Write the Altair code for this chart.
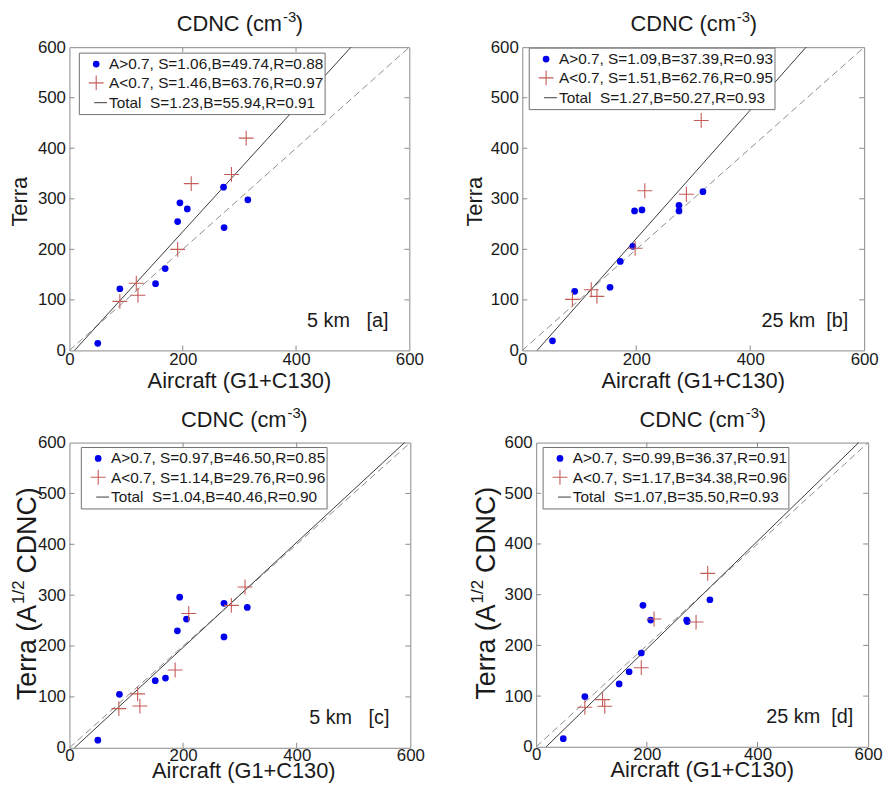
import altair as alt
import pandas as pd

FONT = "Liberation Sans"
BLUE = "#0000ee"
RED = "#c45c58"
FRAME = "#8a8a8a"
TXT = "#1a1a1a"
PLUS = "M-1,0L1,0M0,-1L0,1"

# ---------------- data ----------------
x_ticks = [0, 200, 400, 600]
y_ticks = [0, 100, 200, 300, 400, 500, 600]

# panel a (5 km, CDNC)
a_blue_x = [50, 89, 152, 169, 191, 195, 208, 272, 273, 315]
a_blue_y = [14, 122, 132, 162, 255, 292, 280, 323, 243, 298]
a_red_x = [89, 118, 121, 191, 215, 286, 312]
a_red_y = [97, 133, 109, 200, 330, 348, 420]
a_fit_x = [9, 497]          # x where the fitted line meets y=0 and y=600
# panel b (25 km, CDNC)
b_blue_x = [53, 92, 154, 172, 194, 197, 210, 275, 275, 317]
b_blue_y = [19, 117, 125, 176, 206, 276, 278, 287, 276, 314]
b_red_x = [88, 121, 131, 198, 215, 288, 314]
b_red_y = [101, 120, 107, 202, 316, 309, 455]
b_fit_x = [26, 498]
# panel c (5 km, A^1/2 CDNC)
c_blue_x = [50, 88, 151, 169, 190, 194, 206, 272, 272, 313]
c_blue_y = [15, 105, 132, 137, 230, 296, 253, 284, 218, 276]
c_red_x = [87, 120, 124, 186, 210, 285, 309]
c_red_y = [77, 106, 82, 153, 264, 280, 316]
c_fit_x = [9, 590]
# panel d (25 km, A^1/2 CDNC)
d_blue_x = [49, 88, 150, 168, 190, 193, 207, 272, 273, 314]
d_blue_y = [16, 99, 124, 148, 185, 279, 250, 250, 247, 290]
d_red_x = [88, 120, 124, 190, 213, 289, 310]
d_red_y = [78, 93, 80, 156, 252, 246, 342]
d_fit_x = [18, 583]

one_to_one = [0, 600]

a_legend = ["A>0.7, S=1.06,B=49.74,R=0.88", "A<0.7, S=1.46,B=63.76,R=0.97", "Total\u00a0\u00a0S=1.23,B=55.94,R=0.91"]
b_legend = ["A>0.7, S=1.09,B=37.39,R=0.93", "A<0.7, S=1.51,B=62.76,R=0.95", "Total\u00a0\u00a0S=1.27,B=50.27,R=0.93"]
c_legend = ["A>0.7, S=0.97,B=46.50,R=0.85", "A<0.7, S=1.14,B=29.76,R=0.96", "Total\u00a0\u00a0S=1.04,B=40.46,R=0.90"]
d_legend = ["A>0.7, S=0.99,B=36.37,R=0.91", "A<0.7, S=1.17,B=34.38,R=0.96", "Total\u00a0\u00a0S=1.07,B=35.50,R=0.93"]

a_label = "5 km\u00a0\u00a0\u00a0[a]"
b_label = "25 km\u00a0\u00a0[b]"
c_label = "5 km\u00a0\u00a0\u00a0[c]"
d_label = "25 km\u00a0\u00a0[d]"

ONE = pd.DataFrame({"k": [0]})


def panel(w, h, bx, by, rx, ry, fitx, legend, label, leg_dx, leg_dy,
          ytitle_x, ylong, xtitle_dy, xlabpad, label_dx, cshift):
    XS = alt.Scale(domain=[0, 600], nice=False, zero=False)
    YS = alt.Scale(domain=[0, 600], nice=False, zero=False)
    XA = alt.Axis(values=x_ticks, ticks=False, domain=False, grid=False,
                  labelFontSize=17, labelFont=FONT, labelColor=TXT,
                  labelPadding=xlabpad, labelFlush=False, labelOverlap=False, title=None)
    YA = alt.Axis(values=y_ticks, ticks=False, domain=False, grid=False,
                  labelFontSize=17, labelFont=FONT, labelColor=TXT,
                  labelPadding=4, labelFlush=False, labelOverlap=False, title=None)

    def X(f="x"):
        return alt.X(f + ":Q", scale=XS, axis=XA)

    def Y(f="y"):
        return alt.Y(f + ":Q", scale=YS, axis=YA)

    layers = []
    layers.append(alt.Chart(pd.DataFrame({"x": one_to_one, "y": one_to_one}))
                  .mark_line(color="#8c8c8c", strokeWidth=1, strokeDash=[7, 4])
                  .encode(x=X(), y=Y()))
    layers.append(alt.Chart(pd.DataFrame({"x": fitx, "y": one_to_one}))
                  .mark_line(color="#3a3a3a", strokeWidth=1)
                  .encode(x=X(), y=Y()))
    inner_x = pd.DataFrame({"x": x_ticks[1:-1]})
    inner_y = pd.DataFrame({"y": y_ticks[1:-1]})
    layers.append(alt.Chart(inner_x).mark_rule(color=FRAME)
                  .encode(x=X(), y=alt.value(h), y2=alt.value(h - 5)))
    layers.append(alt.Chart(inner_x).mark_rule(color=FRAME)
                  .encode(x=X(), y=alt.value(0), y2=alt.value(5)))
    layers.append(alt.Chart(inner_y).mark_rule(color=FRAME)
                  .encode(y=Y(), x=alt.value(0), x2=alt.value(5)))
    layers.append(alt.Chart(inner_y).mark_rule(color=FRAME)
                  .encode(y=Y(), x=alt.value(w), x2=alt.value(w - 5)))
    layers.append(alt.Chart(pd.DataFrame({"x": bx, "y": by}))
                  .mark_circle(size=46, color=BLUE, opacity=1)
                  .encode(x=X(), y=Y()))
    layers.append(alt.Chart(pd.DataFrame({"x": rx, "y": ry}))
                  .mark_point(shape=PLUS, size=225, filled=False, color=RED,
                              strokeWidth=1.1, opacity=1)
                  .encode(x=X(), y=Y()))
    L, T = leg_dx, leg_dy
    layers.append(alt.Chart(ONE).mark_rect(fill="white", stroke="#707070", strokeWidth=1)
                  .encode(x=alt.value(L), x2=alt.value(L + 248),
                          y=alt.value(T), y2=alt.value(T + 62)))
    layers.append(alt.Chart(ONE).mark_circle(size=46, color=BLUE, opacity=1)
                  .encode(x=alt.value(L + 17), y=alt.value(T + 11)))
    layers.append(alt.Chart(ONE).mark_point(shape=PLUS, size=225, filled=False,
                                            color=RED, strokeWidth=1.1, opacity=1)
                  .encode(x=alt.value(L + 17), y=alt.value(T + 30)))
    layers.append(alt.Chart(ONE).mark_rule(color="#3a3a3a", strokeWidth=1)
                  .encode(x=alt.value(L + 15), x2=alt.value(L + 28), y=alt.value(T + 50)))
    for i, t in enumerate(legend):
        layers.append(alt.Chart(ONE).mark_text(text=t, align="left", baseline="middle",
                                               fontSize=15.5, font=FONT, color=TXT)
                      .encode(x=alt.value(L + 30), y=alt.value(T + 11 + i * 19.5)))
    layers.append(alt.Chart(ONE).mark_text(text=label, align="right", baseline="middle",
                                           fontSize=20, font=FONT, color=TXT)
                  .encode(x=alt.value(w - label_dx), y=alt.value(h - 30)))
    A = w / 2 + 43 + cshift
    layers.append(alt.Chart(ONE).mark_text(text="CDNC (cm", align="right", baseline="alphabetic",
                                           fontSize=22, font=FONT, color=TXT)
                  .encode(x=alt.value(A), y=alt.value(-16)))
    layers.append(alt.Chart(ONE).mark_text(text="-3", align="left", baseline="alphabetic",
                                           fontSize=15, font=FONT, color=TXT)
                  .encode(x=alt.value(A + 1), y=alt.value(-25)))
    layers.append(alt.Chart(ONE).mark_text(text=")", align="left", baseline="alphabetic",
                                           fontSize=22, font=FONT, color=TXT)
                  .encode(x=alt.value(A + 14), y=alt.value(-16)))
    layers.append(alt.Chart(ONE).mark_text(text="Aircraft (G1+C130)", align="center",
                                           baseline="alphabetic", fontSize=22, font=FONT, color=TXT)
                  .encode(x=alt.value(w / 2 + cshift), y=alt.value(h + xtitle_dy)))
    if not ylong:
        layers.append(alt.Chart(ONE).mark_text(text="Terra", align="center", baseline="middle",
                                               angle=270, fontSize=22, font=FONT, color=TXT)
                      .encode(x=alt.value(ytitle_x), y=alt.value(h / 2 + 3)))
    else:
        fs, sfs = 27, 17
        w1 = 3.667 * fs
        w2 = 1.39 * sfs
        w3 = 3.221 * fs
        gap = 8
        tot = w1 + w2 + gap + w3
        bottom = h / 2 + tot / 2
        P = bottom - w1
        layers.append(alt.Chart(ONE).mark_text(text="Terra (A", align="right", baseline="middle",
                                               angle=270, fontSize=fs, font=FONT, color=TXT)
                      .encode(x=alt.value(ytitle_x), y=alt.value(P)))
        layers.append(alt.Chart(ONE).mark_text(text="1/2", align="left", baseline="middle",
                                               angle=270, fontSize=sfs, font=FONT, color=TXT)
                      .encode(x=alt.value(ytitle_x - 9), y=alt.value(P - 1)))
        layers.append(alt.Chart(ONE).mark_text(text="CDNC)", align="left", baseline="middle",
                                               angle=270, fontSize=fs, font=FONT, color=TXT)
                      .encode(x=alt.value(ytitle_x), y=alt.value(P - w2 - gap)))
    return alt.layer(*layers).properties(width=w, height=h)


pa = panel(343, 306, a_blue_x, a_blue_y, a_red_x, a_red_y, a_fit_x, a_legend, a_label,
           10, 6, -50, False, 38, 1, 21, 0)
pb = panel(345, 306, b_blue_x, b_blue_y, b_red_x, b_red_y, b_fit_x, b_legend, b_label,
           7, 1, -48, False, 38, 1, 16, 0)
pc = panel(344, 308, c_blue_x, c_blue_y, c_red_x, c_red_y, c_fit_x, c_legend, c_label,
           12, 5, -42, True, 30, 0, 21, 4)
pd_ = panel(335, 307, d_blue_x, d_blue_y, d_red_x, d_red_y, d_fit_x, d_legend, d_label,
            7, 5, -50, True, 30, 0, 15, 0)

top_row = alt.hconcat(pa, pb, spacing=39, bounds="full")
bottom_row = alt.hconcat(pc, pd_, spacing=43, bounds="full")

chart = (alt.vconcat(top_row, bottom_row, spacing=12, bounds="full")
         .properties(padding={"left": 0, "top": -2, "right": 0, "bottom": -3}, background="white")
         .configure_view(stroke=FRAME, strokeWidth=1))

chart.save("out.html", embed_options={"renderer": "svg", "actions": False})
